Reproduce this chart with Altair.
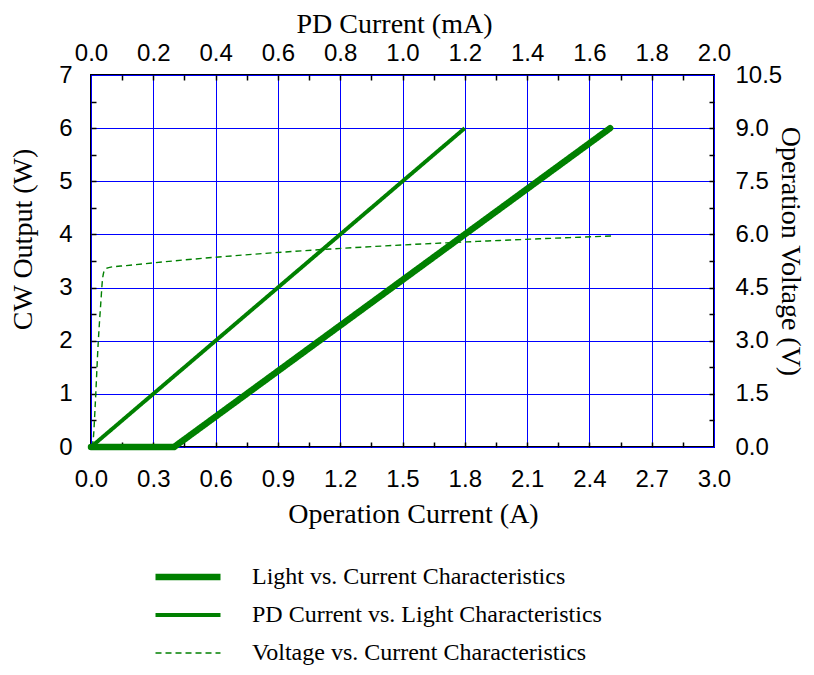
import altair as alt
import pandas as pd

series = [
    "Light vs. Current Characteristics",
    "PD Current vs. Light Characteristics",
    "Voltage vs. Current Characteristics",
]

# Light vs. current (bottom axis A, left axis W)
light_current_A = [0.0, 0.4, 2.5]
light_output_W = [0.0, 0.0, 6.0]

# PD current vs. light (top axis mA, left axis W)
pd_current_mA = [0.0, 1.2]
pd_output_W = [0.0, 6.0]

# Voltage vs. current (bottom axis A, right axis V)
volt_current_A = [0.005, 0.012, 0.02, 0.035, 0.047, 0.056, 0.067, 0.09, 0.17, 2.52]
volt_voltage_V = [0.0, 0.3, 1.15, 2.97, 4.05, 4.76, 5.01, 5.07, 5.12, 5.96]

x_ticks_A = [0.0, 0.3, 0.6, 0.9, 1.2, 1.5, 1.8, 2.1, 2.4, 2.7, 3.0]
x_ticks_mA = [0.0, 0.2, 0.4, 0.6, 0.8, 1.0, 1.2, 1.4, 1.6, 1.8, 2.0]
y_ticks_W = [0, 1, 2, 3, 4, 5, 6, 7]
y_ticks_V = [0.0, 1.5, 3.0, 4.5, 6.0, 7.5, 9.0, 10.5]

minor_A = [round(i * 0.15, 2) for i in range(1, 20)]
minor_mA = [round(i * 0.1, 2) for i in range(1, 20)]
minor_W = [round(i * 0.5, 2) for i in range(1, 14)]

df_light = pd.DataFrame({"A": light_current_A, "W": light_output_W, "series": series[0]})
df_pd = pd.DataFrame({"mA": pd_current_mA, "W": pd_output_W, "series": series[1]})
df_volt = pd.DataFrame({"A": volt_current_A, "V": volt_voltage_V, "series": series[2]})

GREEN = "#008000"
BLUE = "#0000ff"
SANS = "Liberation Sans"
SERIF = "Liberation Serif"

dom_A = [0, 3.0]
dom_mA = [0, 2.0]
dom_W = [0, 7]
dom_V = [0, 10.5]

legend = alt.Legend(
    title=None,
    orient="none",
    legendX=61,
    legendY=490,
    direction="vertical",
    symbolType="stroke",
    symbolSize=4225,
    clipHeight=24,
    labelFont=SERIF,
    labelFontSize=24,
    labelColor="black",
    labelOffset=28,
    rowPadding=14,
    labelLimit=600,
)

enc_style = dict(
    color=alt.Color("series:N", scale=alt.Scale(domain=series, range=[GREEN, GREEN, GREEN]), legend=legend),
    strokeWidth=alt.StrokeWidth("series:N", scale=alt.Scale(domain=series, range=[6.5, 1.4, 1.4]), legend=legend),
    strokeDash=alt.StrokeDash("series:N", scale=alt.Scale(domain=series, range=[[1, 0], [1, 0], [6, 4]]), legend=legend),
)

label_axis = dict(
    tickSize=0,
    domain=False,
    labelFlush=False,
    labelOverlap=False,
    labelFont=SANS,
    labelFontSize=24,
    labelColor="black",
    titleFont=SERIF,
    titleFontSize=28,
    titleFontWeight="normal",
    titleColor="black",
    gridColor=BLUE,
    gridWidth=1,
    gridOpacity=1,
)

light = alt.Chart(df_light).mark_line(strokeCap="round").encode(
    x=alt.X("A:Q", scale=alt.Scale(domain=dom_A, nice=False),
            axis=alt.Axis(orient="bottom", values=x_ticks_A, format=".1f", grid=True,
                          title="Operation Current (A)", labelPadding=20, titleX=322, titleY=53,
                          **label_axis)),
    y=alt.Y("W:Q", scale=alt.Scale(domain=dom_W, nice=False),
            axis=alt.Axis(orient="left", values=y_ticks_W, format="d", grid=True,
                          title="CW Output (W)", labelPadding=19, titlePadding=21, titleY=164,
                          **label_axis)),
    **enc_style,
)

pdline = alt.Chart(df_pd).mark_line().encode(
    x=alt.X("mA:Q", scale=alt.Scale(domain=dom_mA, nice=False),
            axis=alt.Axis(orient="top", values=x_ticks_mA, format=".1f", grid=False,
                          title="PD Current (mA)", labelPadding=10, titleX=303, titleY=-37,
                          **label_axis)),
    y=alt.Y("W:Q", scale=alt.Scale(domain=dom_W, nice=False), axis=None),
    **enc_style,
)

volt = alt.Chart(df_volt).mark_line(interpolate="monotone").encode(
    x=alt.X("A:Q", scale=alt.Scale(domain=dom_A, nice=False), axis=None),
    y=alt.Y("V:Q", scale=alt.Scale(domain=dom_V, nice=False),
            axis=alt.Axis(orient="right", values=y_ticks_V, format=".1f", grid=False,
                          title="Operation Voltage (V)", labelPadding=21, titleX=61, titleY=176,
                          **label_axis)),
    **enc_style,
)

tick_axis = dict(labels=False, domain=False, grid=False, title=None, tickSize=5, offset=-5,
                 tickColor="black", tickWidth=1.5)

ticks1 = alt.Chart(df_light).mark_line(opacity=0).encode(
    x=alt.X("A:Q", scale=alt.Scale(domain=dom_A, nice=False),
            axis=alt.Axis(orient="bottom", values=minor_A, **tick_axis)),
    y=alt.Y("W:Q", scale=alt.Scale(domain=dom_W, nice=False),
            axis=alt.Axis(orient="left", values=minor_W, **tick_axis)),
)

ticks2 = alt.Chart(df_pd).mark_line(opacity=0).encode(
    x=alt.X("mA:Q", scale=alt.Scale(domain=dom_mA, nice=False),
            axis=alt.Axis(orient="top", values=minor_mA, **tick_axis)),
    y=alt.Y("W:Q", scale=alt.Scale(domain=dom_W, nice=False),
            axis=alt.Axis(orient="right", values=minor_W, **tick_axis)),
)

chart = alt.layer(light, pdline, volt, ticks1, ticks2).resolve_scale(
    x="independent", y="independent"
).properties(
    width=623,
    height=372,
    autosize=alt.AutoSizeParams(type="none"),
    padding={"left": 83, "top": 67, "right": 92, "bottom": 220},
).configure_view(
    stroke="black", strokeWidth=2
)

chart.save("out.html", embed_options={"renderer": "svg", "actions": False})
